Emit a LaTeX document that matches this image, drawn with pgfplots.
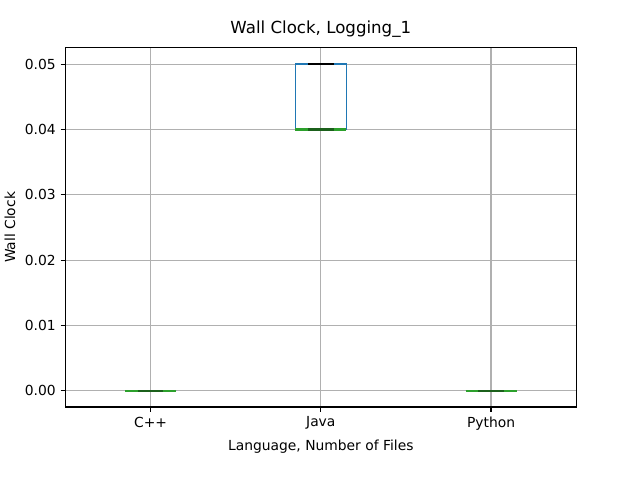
\documentclass[border=0pt]{standalone}
\usepackage{pgfplots}
\pgfplotsset{compat=1.18}
\usepackage{fontspec}
\setmainfont{DejaVu Sans}
\definecolor{mplblue}{HTML}{1F77B4}
\definecolor{mplgreen}{HTML}{2CA02C}
\definecolor{gridgray}{HTML}{B0B0B0}
\pgfplotsset{bx/.style={line width=1.1pt, mark=none, solid}}
\pgfplotsset{md/.style={line width=1.5pt, mark=none, solid}}
\begin{document}
\begin{tikzpicture}
\begin{axis}[
  name=ax,
  scale only axis,
  width=368.64pt, height=259.2pt,
  xmin=0.5, xmax=3.5,
  ymin=-0.0025, ymax=0.0525,
  xtick={1,2,3},
  xticklabels={C++,Java,Python},
  ytick={0,0.01,0.02,0.03,0.04,0.05},
  scaled y ticks=false,
  yticklabel style={/pgf/number format/fixed,/pgf/number format/fixed zerofill,/pgf/number format/precision=2},
  /pgf/number format/assume math mode=true,
  grid=major,
  major grid style={gridgray, line width=0.8pt},
  axis line style={line width=0.8pt},
  tick style={black, line width=0.8pt},
  tick align=outside,
  major tick length=3.5pt,
  xtick pos=bottom, ytick pos=left,
  tick label style={font=\fontsize{10}{12}\selectfont},
  label style={font=\fontsize{10}{12}\selectfont},
  xlabel={Language, Number of Files},
  ylabel={Wall Clock},
  title={Wall Clock, Logging\_1},
  title style={font=\fontsize{12}{14}\selectfont, yshift=-2pt},
]
% C++ : all statistics 0
\addplot[bx, mplblue] coordinates {(0.85,0) (1.15,0) (1.15,0) (0.85,0) (0.85,0)};
\addplot[md, mplgreen] coordinates {(0.85,0) (1.15,0)};
\addplot[md, black!40!mplgreen] coordinates {(0.925,0) (1.075,0)};
% Java : whiskers 0.04 / 0.05, quartiles 0.04 / 0.05, median 0.04
\addplot[bx, mplblue] coordinates {(1.85,0.04) (2.15,0.04) (2.15,0.05) (1.85,0.05) (1.85,0.04)};
\addplot[md, black] coordinates {(1.925,0.05) (2.075,0.05)};
\addplot[md, mplgreen] coordinates {(1.85,0.04) (2.15,0.04)};
\addplot[md, black!40!mplgreen] coordinates {(1.925,0.04) (2.075,0.04)};
% Python : all statistics 0
\addplot[bx, mplblue] coordinates {(2.85,0) (3.15,0) (3.15,0) (2.85,0) (2.85,0)};
\addplot[md, mplgreen] coordinates {(2.85,0) (3.15,0)};
\addplot[md, black!40!mplgreen] coordinates {(2.925,0) (3.075,0)};
\end{axis}
\path[use as bounding box] ([xshift=-46.08pt,yshift=-51.84pt]ax.south west) rectangle ([xshift=46.08pt,yshift=34.56pt]ax.north east);
\end{tikzpicture}
\end{document}
